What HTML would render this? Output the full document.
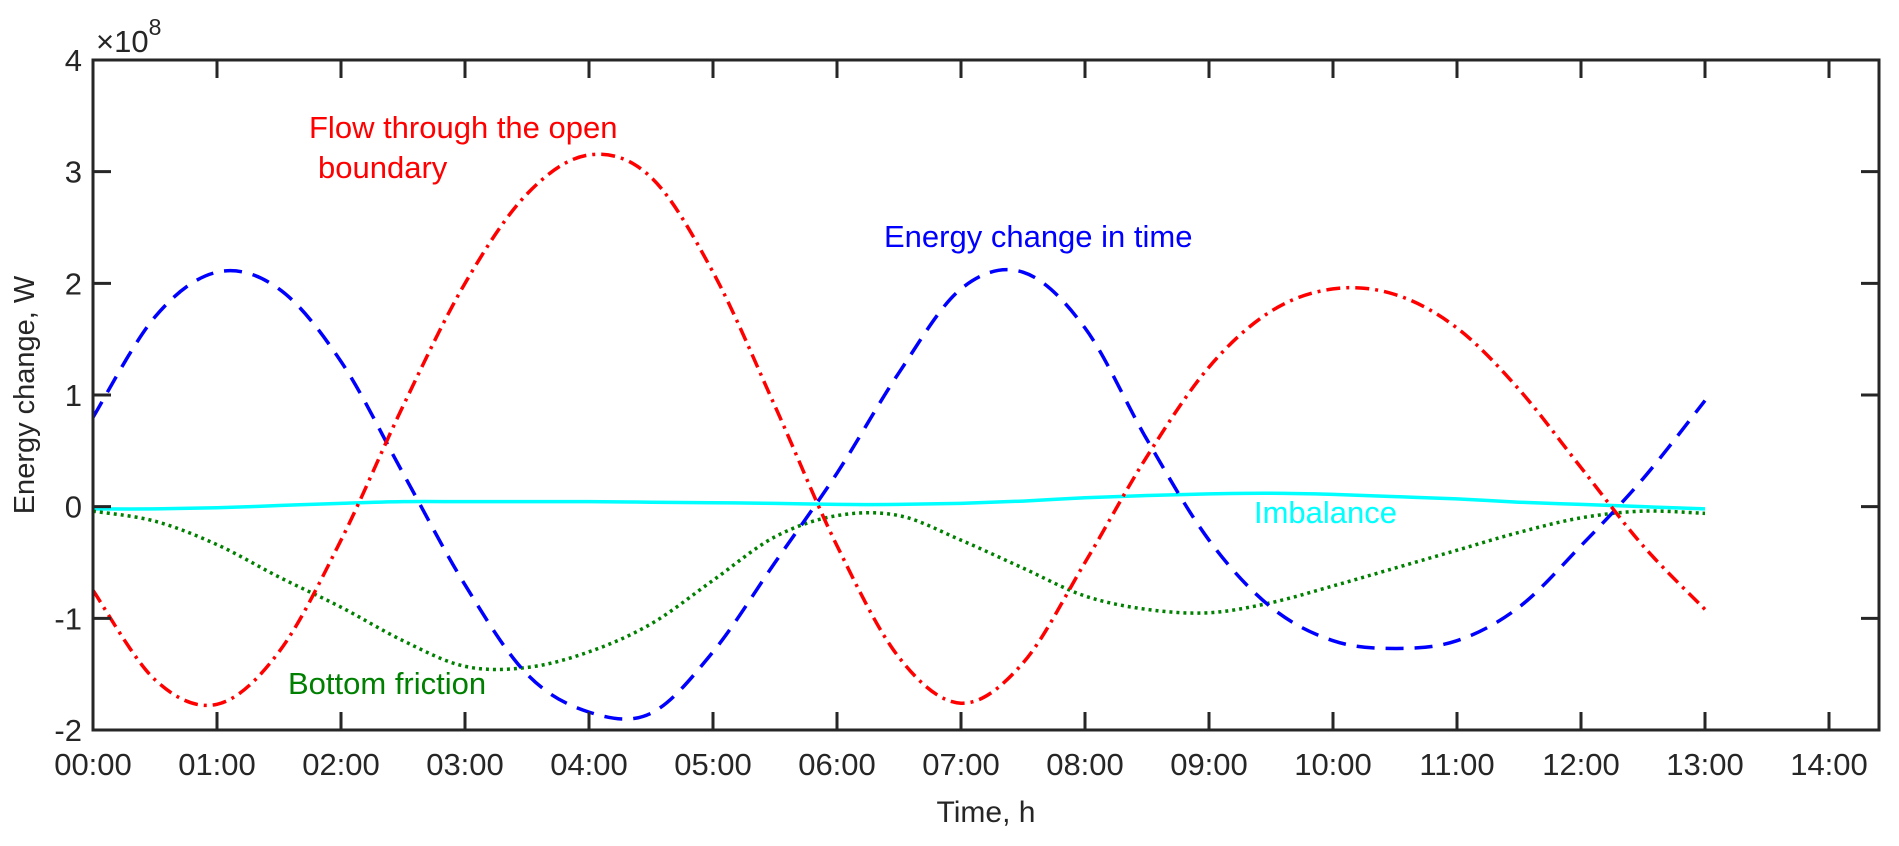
<!DOCTYPE html>
<html><head><meta charset="utf-8"><style>
body{margin:0;background:#fff}
svg text{font-family:"Liberation Sans",Arial,sans-serif}
</style></head><body>
<svg id="chart" width="1899" height="841" viewBox="0 0 1899 841">
<g id="marks"></g>
<g id="axes"></g>
<text x="309" y="138" font-size="31" fill="#ff0000">Flow through the open</text>
<text x="318" y="178" font-size="31" fill="#ff0000">boundary</text>
<text x="884" y="247" font-size="31" fill="#0000ff">Energy change in time</text>
<text x="1254" y="523" font-size="31" fill="#00ffff">Imbalance</text>
<text x="288" y="694" font-size="31" fill="#008000">Bottom friction</text>
<text x="986" y="822" font-size="30" fill="#262626" text-anchor="middle">Time, h</text>
<text transform="translate(34,395) rotate(-90)" font-size="29" fill="#262626" text-anchor="middle">Energy change, W</text>
<text x="96" y="52" font-size="31" fill="#262626">×10<tspan dy="-17" font-size="23">8</tspan></text>
</svg>
<script>
const times=[0,0.5,1,1.5,2,2.5,3,3.5,4,4.5,5,5.5,6,6.5,7,7.5,8,8.5,9,9.5,10,10.5,11,11.5,12,12.5,13];
const blueVals=[0.8,1.7,2.1,1.95,1.3,0.3,-0.7,-1.5,-1.84,-1.85,-1.3,-0.5,0.3,1.2,1.95,2.1,1.6,0.6,-0.3,-0.9,-1.2,-1.27,-1.2,-0.9,-0.35,0.25,0.95];
const redVals=[-0.75,-1.55,-1.77,-1.3,-0.3,0.9,2.0,2.8,3.15,2.95,2.1,0.9,-0.35,-1.35,-1.76,-1.4,-0.5,0.45,1.25,1.75,1.95,1.9,1.6,1.05,0.35,-0.35,-0.92];
const greenVals=[-0.04,-0.13,-0.34,-0.63,-0.9,-1.2,-1.43,-1.44,-1.3,-1.05,-0.66,-0.27,-0.08,-0.08,-0.3,-0.55,-0.8,-0.92,-0.95,-0.86,-0.71,-0.55,-0.39,-0.23,-0.1,-0.04,-0.06];
const cyanVals=[-0.02,-0.02,-0.01,0.01,0.03,0.045,0.045,0.045,0.045,0.04,0.035,0.03,0.02,0.02,0.03,0.05,0.08,0.1,0.115,0.12,0.11,0.09,0.07,0.04,0.02,0,-0.02];
const xTicks=[0,1,2,3,4,5,6,7,8,9,10,11,12,13,14];
const xTickLabels=["00:00","01:00","02:00","03:00","04:00","05:00","06:00","07:00","08:00","09:00","10:00","11:00","12:00","13:00","14:00"];
const yTicks=[-2,-1,0,1,2,3,4];

const L=93,R=1879,T=60,B=730,YMIN=-2,YMAX=4;
const hpx=124;
function sx(t){return L+t*hpx;}
function sy(v){return B-(v-YMIN)/(YMAX-YMIN)*(B-T);}
const NS="http://www.w3.org/2000/svg";
const marks=document.getElementById('marks'),axes=document.getElementById('axes');
function pathFor(vals){
  const p=vals.map((v,i)=>[sx(times[i]),sy(v)]);
  let d=`M${p[0][0]},${p[0][1]}`;
  for(let i=0;i<p.length-1;i++){
    const p0=p[Math.max(0,i-1)],p1=p[i],p2=p[i+1],p3=p[Math.min(p.length-1,i+2)];
    const c1=[p1[0]+(p2[0]-p0[0])/6,p1[1]+(p2[1]-p0[1])/6];
    const c2=[p2[0]-(p3[0]-p1[0])/6,p2[1]-(p3[1]-p1[1])/6];
    d+=` C${c1[0]},${c1[1]} ${c2[0]},${c2[1]} ${p2[0]},${p2[1]}`;
  }
  return d;
}
function addLine(vals,color,dash,name){
  const el=document.createElementNS(NS,'path');
  el.setAttribute('d',pathFor(vals));
  el.setAttribute('fill','none');el.setAttribute('stroke',color);
  el.setAttribute('stroke-width','3.5');
  if(dash)el.setAttribute('stroke-dasharray',dash);
  
  
  marks.appendChild(el);
}
addLine(cyanVals,'#00ffff',null,'imbalance-line');
addLine(greenVals,'#008000','3 4','bottom-friction-line');
addLine(blueVals,'#0000ff','18 11','energy-change-line');
addLine(redVals,'#ff0000','14 6 3 6','flow-boundary-line');

const box=document.createElementNS(NS,'rect');
box.setAttribute('x',L);box.setAttribute('y',T);box.setAttribute('width',R-L);box.setAttribute('height',B-T);
box.setAttribute('fill','none');box.setAttribute('stroke','#262626');box.setAttribute('stroke-width','3');


axes.appendChild(box);
xTicks.forEach((t,i)=>{
  const x=sx(t);
  const tk=document.createElementNS(NS,'path');
  tk.setAttribute('d',`M${x},${B}V${B-18}M${x},${T}V${T+18}`);
  tk.setAttribute('stroke','#262626');tk.setAttribute('stroke-width','3');
  
  
  axes.appendChild(tk);
  const tx=document.createElementNS(NS,'text');
  tx.setAttribute('x',x);tx.setAttribute('y',B+45);tx.setAttribute('font-size','31');
  tx.setAttribute('text-anchor','middle');tx.setAttribute('fill','#262626');
  tx.textContent=xTickLabels[i];
  
  
  axes.appendChild(tx);
});
yTicks.forEach(v=>{
  const y=sy(v);
  const tk=document.createElementNS(NS,'path');
  tk.setAttribute('d',`M${L},${y}H${L+18}M${R},${y}H${R-18}`);
  tk.setAttribute('stroke','#262626');tk.setAttribute('stroke-width','3');
  
  
  axes.appendChild(tk);
  const tx=document.createElementNS(NS,'text');
  tx.setAttribute('x',L-11);tx.setAttribute('y',y+11);tx.setAttribute('font-size','31');
  tx.setAttribute('text-anchor','end');tx.setAttribute('fill','#262626');
  tx.textContent=String(v);
  
  
  axes.appendChild(tx);
});
</script>
</body></html>
